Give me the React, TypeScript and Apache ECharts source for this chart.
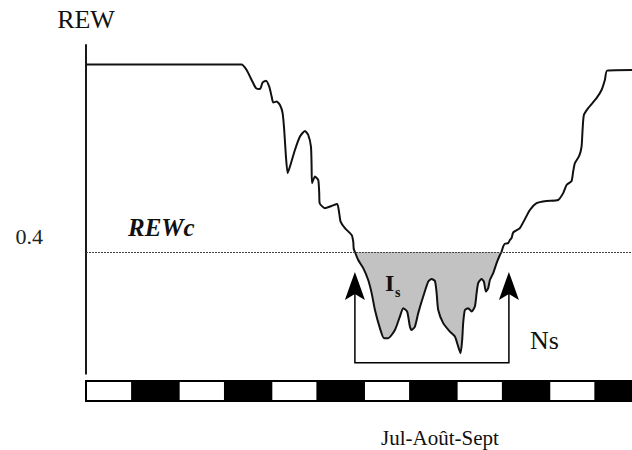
import React, { useEffect, useRef } from "react";
import * as echarts from "echarts";

// Time axis: days since the start of the summer period (Jul-Août-Sept)
const days = [
  0, 23.5, 24.27, 25.03, 25.68, 26.28, 26.69, 27.19, 27.69, 28.05, 28.29, 28.81, 29.31, 29.71,
  29.95, 30.21, 30.47, 30.82, 31.57, 32.33, 33.08, 33.58, 33.99, 34.09, 34.15, 34.59, 35.09,
  35.24, 35.3, 36.1, 37.11, 37.96, 38.26, 38.47, 39.12, 40.14, 40.38, 40.45, 40.63, 41.13,
  41.89, 42.64, 43.16, 43.66, 44.41, 45.02, 45.66, 46.68, 47.43, 47.93, 48.53, 48.94, 49.2,
  49.7, 50.2, 50.95, 51.71, 52.22, 52.72, 52.98, 53.22, 53.97, 54.98, 55.74, 56.24, 56.6,
  56.84, 56.99, 57.25, 57.75, 58.26, 58.76, 59.02, 59.26, 59.77, 60.12, 60.42, 60.77, 61.03,
  61.53, 62.04, 62.54, 62.79, 63.03, 63.29, 63.79, 64.05, 64.3, 64.55, 65.56, 67.07, 68.08,
  69.59, 71.34, 72.1, 72.61, 73.37, 73.61, 73.87, 74.52, 74.88, 75.03, 75.23, 75.88, 77.14,
  77.9, 78.4, 78.75, 82.5,
];
const rew = [
  1.0, 1.0, 0.982, 0.95, 0.924, 0.921, 0.942, 0.948, 0.929, 0.897, 0.878, 0.881, 0.87, 0.844,
  0.79, 0.705, 0.652, 0.673, 0.726, 0.769, 0.787, 0.774, 0.737, 0.673, 0.62, 0.641, 0.63,
  0.588, 0.556, 0.54, 0.547, 0.553, 0.524, 0.497, 0.476, 0.454, 0.433, 0.41, 0.4, 0.374,
  0.348, 0.31, 0.268, 0.214, 0.156, 0.124, 0.124, 0.15, 0.193, 0.22, 0.209, 0.161, 0.15,
  0.161, 0.204, 0.257, 0.305, 0.313, 0.307, 0.268, 0.214, 0.172, 0.145, 0.129, 0.097, 0.076,
  0.118, 0.172, 0.214, 0.22, 0.209, 0.225, 0.268, 0.3, 0.313, 0.305, 0.273, 0.284, 0.31,
  0.332, 0.364, 0.39, 0.4, 0.417, 0.426, 0.428, 0.438, 0.444, 0.462, 0.476, 0.534, 0.556,
  0.563, 0.566, 0.588, 0.614, 0.627, 0.657, 0.684, 0.707, 0.737, 0.79, 0.838, 0.86, 0.892,
  0.918, 0.95, 0.98, 0.982,
];

const rewCritical = 0.4; // REWc
const yTickLabels = ["0.4"];

// Week strip under the chart
const weekStart = [0, 7, 14, 21, 28, 35, 42, 49, 56, 63, 70, 77];
const weekEnd = [7, 14, 21, 28, 35, 42, 49, 56, 63, 70, 77, 84];
const weekShade = [0, 1, 0, 1, 0, 1, 0, 1, 0, 1, 0, 1];

// Annotation (Ns bracket with arrows at the threshold crossings)
const arrowDays = [40.63, 63.9];
const arrowTipRew = 0.336;
const bracketRew = 0.045;
const nsLabelRew = 0.118;
const isLabelPos = [45.16, 0.302];

const SERIF = "'Liberation Serif', 'DejaVu Serif', serif";

export default function App() {
  const ref = useRef<HTMLDivElement>(null);
  useEffect(() => {
    if (!ref.current) return;
    const chart = echarts.init(ref.current, null, { renderer: "svg" });

    const curve = days.map((d, i) => [d, rew[i]]);
    const i0 = rew.findIndex((v, i) => v <= rewCritical && i > 0);
    let i1 = i0;
    while (i1 + 1 < rew.length && rew[i1 + 1] <= rewCritical) i1++;
    const dip = curve.slice(i0, i1 + 1);

    const weeks = weekStart.map((s, i) => [s, weekEnd[i], weekShade[i]]);

    chart.setOption({
      animation: false,
      backgroundColor: "#fff",
      grid: [
        { left: 86, right: 0, top: 45, bottom: 76.25 },
        { left: 86, right: 0, top: 381, height: 20 },
      ],
      xAxis: [
        { type: "value", gridIndex: 0, min: 0, max: 82.5, show: false },
        { type: "value", gridIndex: 1, min: 0, max: 82.5, show: false },
      ],
      yAxis: [
        {
          type: "value",
          gridIndex: 0,
          min: 0.01,
          max: 1.062,
          name: "REW",
          nameLocation: "end",
          nameGap: 13,
          nameTextStyle: { fontFamily: SERIF, fontSize: 26, color: "#111", align: "center" },
          axisLine: { show: true, lineStyle: { color: "#000", width: 1.8 } },
          axisTick: { show: false },
          splitLine: { show: false },
          axisLabel: { show: false },
        },
        { type: "value", gridIndex: 1, min: 0, max: 1, show: false },
      ],
      series: [
        {
          type: "line",
          xAxisIndex: 0,
          yAxisIndex: 0,
          data: dip,
          showSymbol: false,
          smooth: 0.2,
          lineStyle: { width: 0 },
          areaStyle: { origin: rewCritical, color: "#c2c2c2", opacity: 1 },
          silent: true,
          z: 1,
        },
        {
          type: "line",
          xAxisIndex: 0,
          yAxisIndex: 0,
          data: curve,
          showSymbol: false,
          smooth: 0.2,
          lineStyle: { color: "#111", width: 2 },
          z: 3,
          markLine: {
            silent: true,
            symbol: "none",
            label: { show: false },
            lineStyle: { color: "#444", type: [2, 1], width: 1 },
            data: [{ yAxis: rewCritical }],
          },
        },
        {
          type: "custom",
          xAxisIndex: 0,
          yAxisIndex: 0,
          data: [[arrowDays[0], arrowDays[1]]],
          z: 4,
          renderItem: (params: any, api: any) => {
            const l = api.coord([api.value(0), arrowTipRew]);
            const r = api.coord([api.value(1), arrowTipRew]);
            const b = api.coord([api.value(0), bracketRew]);
            const ns = api.coord([api.value(1), nsLabelRew]);
            const isP = api.coord(isLabelPos);
            const tick = api.coord([0, rewCritical]);
            const tipY = l[1];
            const head = (x: number) => ({
              type: "polygon",
              shape: {
                points: [
                  [x, tipY],
                  [x + 4, tipY + 11],
                  [x + 10, tipY + 28],
                  [x, tipY + 22],
                  [x - 10, tipY + 28],
                  [x - 4, tipY + 11],
                ],
              },
              style: { fill: "#000" },
            });
            return {
              type: "group",
              children: [
                {
                  type: "polyline",
                  shape: {
                    points: [
                      [l[0], tipY + 20],
                      [l[0], b[1]],
                      [r[0], b[1]],
                      [r[0], tipY + 20],
                    ],
                  },
                  style: { stroke: "#000", lineWidth: 1.5, fill: null },
                },
                head(l[0]),
                head(r[0]),
                {
                  type: "text",
                  x: tick[0] - 43,
                  y: tick[1] - 15.5,
                  style: {
                    text: yTickLabels[0],
                    fontFamily: SERIF,
                    fontSize: 22,
                    fill: "#222",
                    verticalAlign: "middle",
                    align: "right",
                  },
                },
                {
                  type: "text",
                  x: ns[0] + 21,
                  y: ns[1],
                  style: {
                    text: "Ns",
                    fontFamily: SERIF,
                    fontSize: 26,
                    fill: "#111",
                    verticalAlign: "middle",
                    align: "left",
                  },
                },
                {
                  type: "text",
                  x: isP[0],
                  y: isP[1],
                  style: {
                    text: "I",
                    fontFamily: SERIF,
                    fontSize: 24,
                    fontWeight: "bold",
                    fill: "#111",
                    verticalAlign: "middle",
                    align: "left",
                  },
                },
                {
                  type: "text",
                  x: isP[0] + 10,
                  y: isP[1] + 10,
                  style: {
                    text: "s",
                    fontFamily: SERIF,
                    fontSize: 14,
                    fontWeight: "bold",
                    fill: "#111",
                    verticalAlign: "middle",
                    align: "left",
                  },
                },
              ],
            };
          },
        },
        {
          type: "custom",
          xAxisIndex: 1,
          yAxisIndex: 1,
          data: weeks,
          renderItem: (params: any, api: any) => {
            const s = api.coord([api.value(0), 0]);
            const e = api.coord([api.value(1), 1]);
            return {
              type: "rect",
              shape: { x: s[0], y: e[1], width: e[0] - s[0], height: s[1] - e[1] },
              style: {
                fill: api.value(2) === 1 ? "#000" : "#fff",
                stroke: "#000",
                lineWidth: 2,
              },
            };
          },
        },
      ],
      graphic: [
        {
          type: "text",
          x: 128,
          y: 227.5,
          style: {
            text: "REWc",
            fontFamily: SERIF,
            fontSize: 25,
            fontStyle: "italic",
            fontWeight: "bold",
            fill: "#111",
            verticalAlign: "middle",
            align: "left",
          },
        },
        {
          type: "text",
          x: 440,
          y: 438,
          style: {
            text: "Jul-Août-Sept",
            fontFamily: SERIF,
            fontSize: 21,
            fill: "#111",
            verticalAlign: "middle",
            align: "center",
          },
        },
      ],
    });
    return () => chart.dispose();
  }, []);
  return (
    <div
      ref={ref}
      style={{ position: "fixed", left: 0, top: 0, width: 632, height: 450, background: "#fff" }}
    />
  );
}
